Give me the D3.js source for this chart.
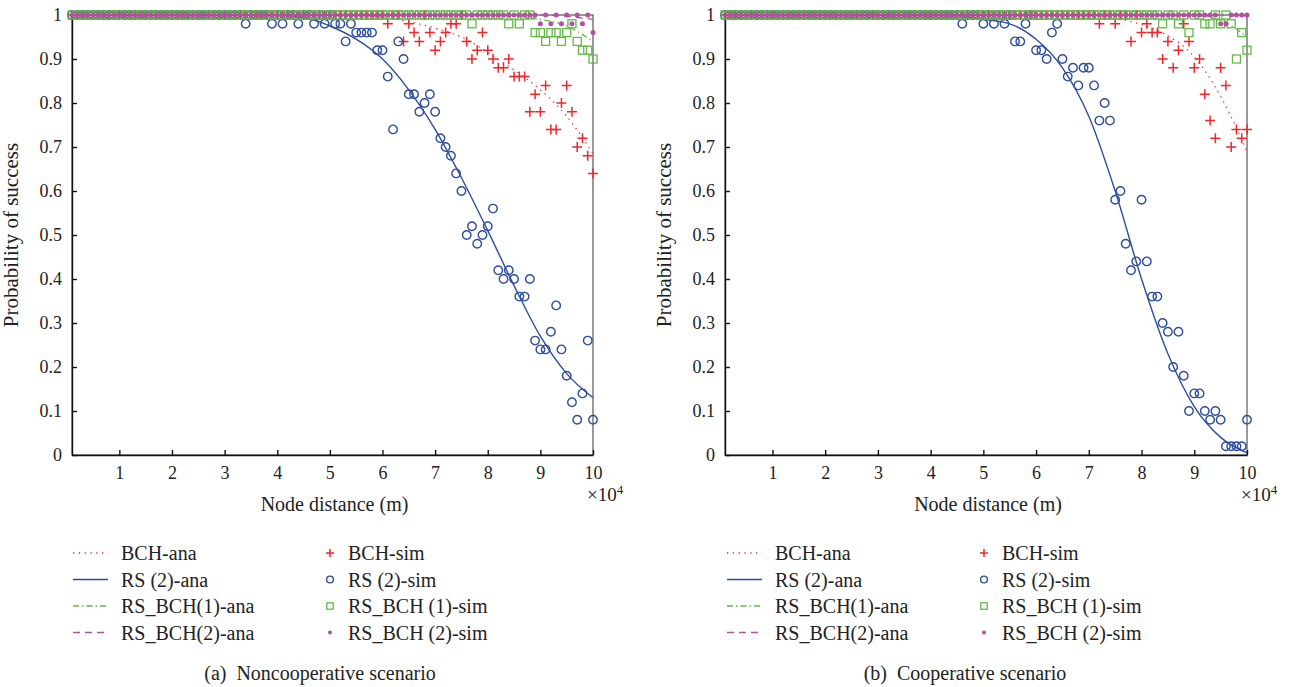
<!DOCTYPE html>
<html>
<head>
<meta charset="utf-8">
<script src="https://cdn.jsdelivr.net/npm/d3@7"></script>
<style>
  body { margin: 0; background: #fff; }
  svg text { font-family: 'Liberation Serif', 'Times New Roman', 'DejaVu Serif', serif !important; }
</style>
</head>
<body>
<div id="chart"></div>
<script>
// node distance, in km (axis shows x 10^4 m)
const distanceKm = [
  1, 2, 3, 4, 5, 6, 7, 8, 9, 10, 11, 12, 13, 14, 15, 16, 17, 18, 19, 20,
  21, 22, 23, 24, 25, 26, 27, 28, 29, 30, 31, 32, 33, 34, 35, 36, 37, 38, 39, 40,
  41, 42, 43, 44, 45, 46, 47, 48, 49, 50, 51, 52, 53, 54, 55, 56, 57, 58, 59, 60,
  61, 62, 63, 64, 65, 66, 67, 68, 69, 70, 71, 72, 73, 74, 75, 76, 77, 78, 79, 80,
  81, 82, 83, 84, 85, 86, 87, 88, 89, 90, 91, 92, 93, 94, 95, 96, 97, 98, 99, 100
];
const anaDistanceKm = [1, 10, 20, 30, 40, 45, 50, 55, 60, 65, 70, 75, 80, 85, 90, 95, 100];

const xTicks = [10, 20, 30, 40, 50, 60, 70, 80, 90, 100];
const yTicks = [0, 0.1, 0.2, 0.3, 0.4, 0.5, 0.6, 0.7, 0.8, 0.9, 1];

// (a) noncooperative - analytical
const bchAnaA    = [1, 1, 1, 1, 1, 1, 1, 0.999, 0.995, 0.985, 0.97, 0.95, 0.915, 0.875, 0.83, 0.77, 0.685];
const rs2AnaA    = [1, 1, 1, 1, 0.999, 0.995, 0.975, 0.945, 0.9, 0.83, 0.74, 0.63, 0.51, 0.385, 0.27, 0.185, 0.13];
const rsbch1AnaA = [1, 1, 1, 1, 1, 1, 1, 1, 1, 1, 1, 1, 1, 0.998, 0.99, 0.975, 0.94];
const rsbch2AnaA = [1, 1, 1, 1, 1, 1, 1, 1, 1, 1, 1, 1, 1, 1, 1, 0.997, 0.99];

// (a) noncooperative - simulation
const bchSimA = [
  1, 1, 1, 1, 1, 1, 1, 1, 1, 1,   1, 1, 1, 1, 1, 1, 1, 1, 1, 1,
  1, 1, 1, 1, 1, 1, 1, 1, 1, 1,   1, 1, 1, 1, 1, 1, 1, 1, 1, 1,
  1, 1, 1, 1, 1, 1, 1, 1, 1, 1,   1, 1, 1, 1, 1, 1, 1, 1, 1, 1,
  0.98, 1, 1, 0.94, 0.98, 0.96, 0.94, 1, 0.96, 0.92,
  0.94, 0.96, 0.98, 0.98, 1, 0.94, 0.9, 0.92, 0.96, 0.92,
  0.9, 0.88, 0.88, 0.9, 0.86, 0.86, 0.86, 0.78, 0.82, 0.78,
  0.84, 0.74, 0.74, 0.8, 0.84, 0.78, 0.7, 0.72, 0.68, 0.64
];
const rs2SimA = [
  1, 1, 1, 1, 1, 1, 1, 1, 1, 1,   1, 1, 1, 1, 1, 1, 1, 1, 1, 1,
  1, 1, 1, 1, 1, 1, 1, 1, 1, 1,
  1, 1, 1, 0.98, 1, 1, 1, 1, 0.98, 1,
  0.98, 1, 1, 0.98, 1, 1, 0.98, 1, 0.98, 1,
  0.98, 0.98, 0.94, 0.98, 0.96, 0.96, 0.96, 0.96, 0.92, 0.92,
  0.86, 0.74, 0.94, 0.9, 0.82, 0.82, 0.78, 0.8, 0.82, 0.78,
  0.72, 0.7, 0.68, 0.64, 0.6, 0.5, 0.52, 0.48, 0.5, 0.52,
  0.56, 0.42, 0.4, 0.42, 0.4, 0.36, 0.36, 0.4, 0.26, 0.24,
  0.24, 0.28, 0.34, 0.24, 0.18, 0.12, 0.08, 0.14, 0.26, 0.08
];
const rsbch1SimA = [
  1, 1, 1, 1, 1, 1, 1, 1, 1, 1,   1, 1, 1, 1, 1, 1, 1, 1, 1, 1,
  1, 1, 1, 1, 1, 1, 1, 1, 1, 1,   1, 1, 1, 1, 1, 1, 1, 1, 1, 1,
  1, 1, 1, 1, 1, 1, 1, 1, 1, 1,   1, 1, 1, 1, 1, 1, 1, 1, 1, 1,
  1, 1, 1, 1, 1, 1, 1, 1, 1, 1,
  1, 1, 1, 1, 1, 1, 0.98, 1, 1, 1,
  1, 1, 1, 0.98, 1, 0.98, 1, 1, 0.96, 0.96,
  0.94, 0.96, 0.96, 0.94, 0.96, 0.98, 0.94, 0.92, 0.92, 0.9
];
const rsbch2SimA = [
  1, 1, 1, 1, 1, 1, 1, 1, 1, 1,   1, 1, 1, 1, 1, 1, 1, 1, 1, 1,
  1, 1, 1, 1, 1, 1, 1, 1, 1, 1,   1, 1, 1, 1, 1, 1, 1, 1, 1, 1,
  1, 1, 1, 1, 1, 1, 1, 1, 1, 1,   1, 1, 1, 1, 1, 1, 1, 1, 1, 1,
  1, 1, 1, 1, 1, 1, 1, 1, 1, 1,   1, 1, 1, 1, 1, 1, 1, 1, 1, 1,
  1, 1, 1, 1, 1, 1, 1, 1, 1, 0.98,
  1, 0.98, 1, 0.98, 1, 0.98, 1, 0.98, 1, 0.96
];

// (b) cooperative - analytical
const bchAnaB    = [1, 1, 1, 1, 1, 1, 1, 1, 1, 1, 1, 0.993, 0.978, 0.953, 0.905, 0.815, 0.69];
const rs2AnaB    = [1, 1, 1, 1, 1, 0.998, 0.99, 0.98, 0.945, 0.88, 0.77, 0.6, 0.4, 0.23, 0.11, 0.04, 0.005];
const rsbch1AnaB = [1, 1, 1, 1, 1, 1, 1, 1, 1, 1, 1, 1, 1, 1, 0.999, 0.988, 0.95];
const rsbch2AnaB = [1, 1, 1, 1, 1, 1, 1, 1, 1, 1, 1, 1, 1, 1, 1, 1, 0.998];

// (b) cooperative - simulation
const bchSimB = [
  1, 1, 1, 1, 1, 1, 1, 1, 1, 1,   1, 1, 1, 1, 1, 1, 1, 1, 1, 1,
  1, 1, 1, 1, 1, 1, 1, 1, 1, 1,   1, 1, 1, 1, 1, 1, 1, 1, 1, 1,
  1, 1, 1, 1, 1, 1, 1, 1, 1, 1,   1, 1, 1, 1, 1, 1, 1, 1, 1, 1,
  1, 1, 1, 1, 1, 1, 1, 1, 1, 1,
  1, 0.98, 1, 1, 0.98, 1, 1, 0.94, 1, 0.96,
  0.98, 0.96, 0.96, 0.9, 0.94, 0.88, 0.92, 0.98, 0.94, 0.88,
  0.9, 0.82, 0.76, 0.72, 0.88, 0.84, 0.7, 0.74, 0.72, 0.74
];
const rs2SimB = [
  1, 1, 1, 1, 1, 1, 1, 1, 1, 1,   1, 1, 1, 1, 1, 1, 1, 1, 1, 1,
  1, 1, 1, 1, 1, 1, 1, 1, 1, 1,   1, 1, 1, 1, 1, 1, 1, 1, 1, 1,
  1, 1, 1, 1, 1, 0.98, 1, 1, 1, 0.98,
  1, 0.98, 1, 0.98, 1, 0.94, 0.94, 0.98, 1, 0.92,
  0.92, 0.9, 0.96, 0.98, 0.9, 0.86, 0.88, 0.84, 0.88, 0.88,
  0.84, 0.76, 0.8, 0.76, 0.58, 0.6, 0.48, 0.42, 0.44, 0.58,
  0.44, 0.36, 0.36, 0.3, 0.28, 0.2, 0.28, 0.18, 0.1, 0.14,
  0.14, 0.1, 0.08, 0.1, 0.08, 0.02, 0.02, 0.02, 0.02, 0.08
];
const rsbch1SimB = [
  1, 1, 1, 1, 1, 1, 1, 1, 1, 1,   1, 1, 1, 1, 1, 1, 1, 1, 1, 1,
  1, 1, 1, 1, 1, 1, 1, 1, 1, 1,   1, 1, 1, 1, 1, 1, 1, 1, 1, 1,
  1, 1, 1, 1, 1, 1, 1, 1, 1, 1,   1, 1, 1, 1, 1, 1, 1, 1, 1, 1,
  1, 1, 1, 1, 1, 1, 1, 1, 1, 1,   1, 1, 1, 1, 1, 1, 1, 1, 1, 1,
  1, 1, 1, 0.98, 1, 1, 0.98, 1, 0.96, 1,
  1, 0.98, 0.98, 1, 0.98, 1, 0.98, 0.9, 0.96, 0.92
];
const rsbch2SimB = [
  1, 1, 1, 1, 1, 1, 1, 1, 1, 1,   1, 1, 1, 1, 1, 1, 1, 1, 1, 1,
  1, 1, 1, 1, 1, 1, 1, 1, 1, 1,   1, 1, 1, 1, 1, 1, 1, 1, 1, 1,
  1, 1, 1, 1, 1, 1, 1, 1, 1, 1,   1, 1, 1, 1, 1, 1, 1, 1, 1, 1,
  1, 1, 1, 1, 1, 1, 1, 1, 1, 1,   1, 1, 1, 1, 1, 1, 1, 1, 1, 1,
  1, 1, 1, 1, 1, 1, 1, 1, 1, 1,
  1, 1, 1, 1, 0.98, 0.98, 1, 1, 1, 1
];

const anaNames = ["BCH-ana", "RS (2)-ana", "RS_BCH(1)-ana", "RS_BCH(2)-ana"];
const simNames = ["BCH-sim", "RS (2)-sim", "RS_BCH (1)-sim", "RS_BCH (2)-sim"];

const red = "#f0262b", blue = "#2e4d9f", green = "#62b948", purple = "#b4509f";
const textColor = "#222";
const lineStyles = [
  { color: red, dash: "1.3,4.5", width: 1.3 },
  { color: blue, dash: null, width: 1.4 },
  { color: green, dash: "6,3,1.5,3", width: 1.3 },
  { color: purple, dash: "7,5", width: 1.3 }
];

const width = 1297, height = 687;
const svg = d3.select("#chart").append("svg")
  .attr("width", width)
  .attr("height", height)
  .attr("font-family", "'Liberation Serif', 'Times New Roman', serif");
svg.append("rect").attr("width", width).attr("height", height).attr("fill", "#fff");

function drawMarker(sel, kind, s) {
  if (kind === 0) {
    sel.append("path")
      .attr("d", `M${-s},0H${s}M0,${-s}V${s}`)
      .attr("stroke", red).attr("stroke-width", 1.5).attr("fill", "none");
  } else if (kind === 1) {
    sel.append("circle").attr("r", s * 0.85)
      .attr("stroke", blue).attr("stroke-width", 1.4).attr("fill", "none");
  } else if (kind === 2) {
    sel.append("rect").attr("x", -s * 0.8).attr("y", -s * 0.8)
      .attr("width", s * 1.6).attr("height", s * 1.6)
      .attr("stroke", green).attr("stroke-width", 1.3).attr("fill", "none");
  } else {
    sel.append("circle").attr("r", s * 0.5).attr("fill", purple);
  }
}

function drawPanel(p) {
  const x = d3.scaleLinear().domain([1, 100]).range([p.left, p.right]);
  const y = d3.scaleLinear().domain([0, 1]).range([455, 15]);
  const g = svg.append("g");

  // box
  g.append("rect")
    .attr("x", x(1)).attr("y", y(1))
    .attr("width", x(100) - x(1)).attr("height", y(0) - y(1))
    .attr("fill", "none").attr("stroke", "#555").attr("stroke-width", 1.2);

  const xAxis = g.append("g")
    .attr("transform", `translate(0,${y(0)})`)
    .call(d3.axisBottom(x).tickValues(xTicks).tickFormat(d => d / 10)
      .tickSizeInner(-5).tickSizeOuter(0).tickPadding(11));
  const yAxis = g.append("g")
    .attr("transform", `translate(${x(1)},0)`)
    .call(d3.axisLeft(y).tickValues(yTicks).tickFormat(d => d)
      .tickSizeInner(-5).tickSizeOuter(0).tickPadding(10));
  [xAxis, yAxis].forEach(a => {
    a.attr("font-family", null).attr("font-size", null);
    a.selectAll("path, line").attr("stroke", "#111").attr("stroke-width", 1.4);
    a.selectAll("text").attr("font-size", 18).attr("fill", textColor);
  });

  // x 10^4
  const mult = g.append("text")
    .attr("x", x(100) - 6).attr("y", 501)
    .attr("font-size", 19).attr("fill", textColor);
  mult.append("tspan").text("\u00d710");
  mult.append("tspan").attr("dy", -7).attr("font-size", 13).text("4");

  g.append("text")
    .attr("x", (x(1) + x(100)) / 2 + 2).attr("y", 511)
    .attr("text-anchor", "middle").attr("font-size", 20).attr("fill", textColor)
    .text("Node distance (m)");
  g.append("text")
    .attr("transform", `translate(${x(1) - 54},235) rotate(-90)`)
    .attr("text-anchor", "middle").attr("font-size", 21).attr("fill", textColor)
    .text("Probability of success");

  // analytical curves
  p.ana.forEach((vals, k) => {
    const st = lineStyles[k];
    const line = d3.line()
      .x((d, i) => x(anaDistanceKm[i]))
      .y(d => y(d))
      .curve(d3.curveMonotoneX);
    g.append("path")
      .attr("d", line(vals))
      .attr("fill", "none")
      .attr("stroke", st.color)
      .attr("stroke-width", st.width)
      .attr("stroke-dasharray", st.dash);
  });

  // simulation markers
  p.sim.forEach((vals, k) => {
    g.append("g").selectAll("g")
      .data(vals)
      .join("g")
      .attr("transform", (d, i) => `translate(${x(distanceKm[i])},${y(d)})`)
      .each(function () { drawMarker(d3.select(this), k, 5); });
  });

  // legend
  const lg = g.append("g").attr("font-size", 20).attr("fill", textColor);
  anaNames.forEach((name, k) => {
    const yy = 553 + k * 26.5;
    const st = lineStyles[k];
    lg.append("line")
      .attr("x1", p.legendX).attr("x2", p.legendX + 35)
      .attr("y1", yy).attr("y2", yy)
      .attr("stroke", st.color).attr("stroke-width", st.width)
      .attr("stroke-dasharray", st.dash);
    lg.append("text").attr("x", p.legendX + 48).attr("y", yy).attr("dy", "0.35em").text(name);
  });
  simNames.forEach((name, k) => {
    const yy = 553 + k * 26.5;
    const m = lg.append("g").attr("transform", `translate(${p.legendX + 257},${yy})`);
    drawMarker(m, k, 4);
    lg.append("text").attr("x", p.legendX + 275).attr("y", yy).attr("dy", "0.35em").text(name);
  });

  g.append("text")
    .attr("x", p.captionX).attr("y", 673).attr("dy", "0.35em")
    .attr("text-anchor", "middle").attr("font-size", 20).attr("fill", textColor)
    .text(p.caption);
}

drawPanel({
  left: 72, right: 593, legendX: 73, captionX: 320,
  caption: "(a)\u2002Noncooperative scenario",
  ana: [bchAnaA, rs2AnaA, rsbch1AnaA, rsbch2AnaA],
  sim: [bchSimA, rs2SimA, rsbch1SimA, rsbch2SimA]
});
drawPanel({
  left: 725, right: 1247, legendX: 727, captionX: 965,
  caption: "(b)\u2002Cooperative scenario",
  ana: [bchAnaB, rs2AnaB, rsbch1AnaB, rsbch2AnaB],
  sim: [bchSimB, rs2SimB, rsbch1SimB, rsbch2SimB]
});
</script>
</body>
</html>
